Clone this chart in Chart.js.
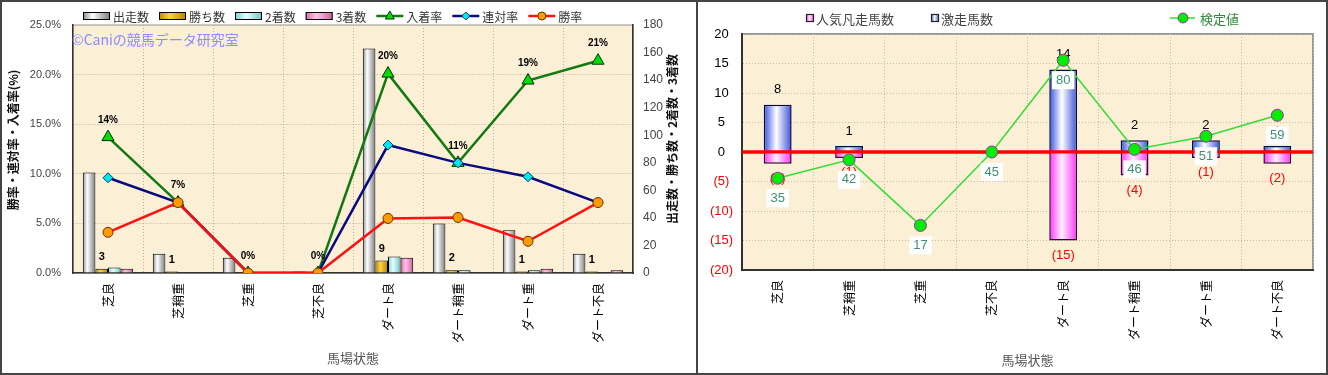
<!DOCTYPE html>
<html lang="ja">
<head>
<meta charset="UTF-8">
<title>馬場状態別成績</title>
<style>
  * { box-sizing: border-box; }
  body { margin: 0; background: #fff; }
  .panel { position: absolute; top: 0; height: 375px; border: 2px solid #444; background: #fff; }
  #left { left: 0; width: 698px; }
  #right { left: 696px; width: 632px; }
</style>
</head>
<body>
<div class="panel" id="left"><canvas id="chartLeft"></canvas></div>
<div class="panel" id="right"><canvas id="chartRight"></canvas></div>

<script src="https://cdn.jsdelivr.net/npm/chart.js"></script>
<script>
  // data
  const conditions = ['芝良', '芝稍重', '芝重', '芝不良', 'ダート良', 'ダート稍重', 'ダート重', 'ダート不良'];
  const starts = [73, 14, 11, 1, 163, 36, 31, 14];
  const wins = [3, 1, 0, 0, 9, 2, 1, 1];
  const seconds = [4, 0, 0, 0, 12, 2, 2, 0];
  const thirds = [3, 0, 0, 0, 11, 0, 3, 2];
  const winRate = [4.1, 7.1, 0, 0, 5.5, 5.6, 3.2, 7.1];
  const quinellaRate = [9.6, 7.1, 0, 0, 12.9, 11.1, 9.7, 7.1];
  const placeRate = [13.7, 7.1, 0, 0, 20.1, 11.1, 19.4, 21.4];

  const surgeCount = [8, 1, 0, 0, 14, 2, 2, 1];
  const flopCount = [-2, -1, 0, 0, -15, -4, -1, -2];
  const testValue = [35, 42, 17, 45, 80, 46, 51, 59];

  Chart.defaults.font.family = '"Noto Sans CJK JP", "Liberation Sans", sans-serif';
  Chart.defaults.animation = false;
  Chart.defaults.events = [];
  Chart.defaults.plugins.legend.display = false;
  Chart.defaults.plugins.tooltip.enabled = false;

  const NUM_FONT = '"Liberation Sans", Arial, sans-serif';

  function hGrad(ctx, x0, x1, stops) {
    const g = ctx.createLinearGradient(x0, 0, x1, 0);
    stops.forEach(s => g.addColorStop(s[0], s[1]));
    return g;
  }

  // cylinder-like shading on bars, computed once the bars have a position
  const barShading = {
    id: 'barShading',
    beforeDatasetsDraw(chart) {
      chart.data.datasets.forEach((ds, i) => {
        if (!ds.shade) return;
        chart.getDatasetMeta(i).data.forEach(el => {
          el.options.backgroundColor = hGrad(chart.ctx, el.x - el.width / 2, el.x + el.width / 2, ds.shade);
        });
      });
    }
  };

  const plotBg = {
    id: 'plotBg',
    beforeDraw(chart, args, opts) {
      const { ctx, chartArea: a } = chart;
      ctx.save();
      ctx.fillStyle = '#fbefd6';
      ctx.fillRect(a.left, a.top, a.right - a.left, a.bottom - a.top);
      ctx.strokeStyle = opts.frame;
      ctx.lineWidth = opts.frameWidth;
      ctx.strokeRect(a.left, a.top, a.right - a.left, a.bottom - a.top);
      ctx.restore();
    }
  };

  // vertical titles, both read bottom to top
  const sideTitles = {
    id: 'sideTitles',
    afterDraw(chart, args, opts) {
      const ctx = chart.ctx;
      (opts.items || []).forEach(t => {
        ctx.save();
        ctx.translate(t.x, t.y);
        ctx.rotate(-Math.PI / 2);
        ctx.font = t.font;
        ctx.fillStyle = t.color;
        ctx.textAlign = 'center';
        ctx.textBaseline = 'middle';
        ctx.fillText(t.text, 0, 0);
        ctx.restore();
      });
    }
  };

  function drawMarker(ctx, style, x, y, r, fill, stroke) {
    ctx.beginPath();
    if (style === 'triangle') {
      ctx.moveTo(x, y - r);
      ctx.lineTo(x - r * 0.9, y + r * 0.6);
      ctx.lineTo(x + r * 0.9, y + r * 0.6);
      ctx.closePath();
    } else if (style === 'rectRot') {
      ctx.moveTo(x, y - r); ctx.lineTo(x + r, y); ctx.lineTo(x, y + r); ctx.lineTo(x - r, y);
      ctx.closePath();
    } else {
      ctx.arc(x, y, r, 0, Math.PI * 2);
    }
    ctx.fillStyle = fill;
    ctx.fill();
    ctx.lineWidth = 1;
    ctx.strokeStyle = stroke;
    ctx.stroke();
  }

  // ---------- left chart ----------
  const leftLegend = {
    id: 'leftLegend',
    afterDraw(chart) {
      const ctx = chart.ctx;
      const order = [3, 4, 5, 6, 2, 1, 0];
      let x = 81;
      const y = 14;
      ctx.save();
      ctx.font = '12px "Noto Sans CJK JP"';
      ctx.textBaseline = 'middle';
      order.forEach(i => {
        const ds = chart.data.datasets[i];
        if (ds.type === 'bar') {
          ctx.fillStyle = hGrad(ctx, x, x + 27, ds.shade);
          ctx.fillRect(x, y - 4, 27, 8);
          ctx.strokeStyle = '#000';
          ctx.lineWidth = 1;
          ctx.strokeRect(x + 0.5, y - 3.5, 26, 7);
        } else {
          ctx.strokeStyle = ds.borderColor;
          ctx.lineWidth = 2.5;
          ctx.beginPath();
          ctx.moveTo(x, y);
          ctx.lineTo(x + 27, y);
          ctx.stroke();
          drawMarker(ctx, ds.pointStyle, x + 13.5, y, ds.pointStyle === 'triangle' ? 5 : 4,
            ds.pointBackgroundColor, ds.pointBorderColor);
        }
        ctx.fillStyle = '#333';
        ctx.fillText(ds.label, x + 30, y + 1);
        x += 30 + ctx.measureText(ds.label).width + 10;
      });
      ctx.restore();
    }
  };

  const leftLabels = {
    id: 'leftLabels',
    beforeDatasetsDraw(chart) {
      const ctx = chart.ctx;
      ctx.save();
      ctx.font = '14px "Noto Sans CJK JP"';
      ctx.fillStyle = '#8c8cff';
      ctx.textBaseline = 'middle';
      ctx.fillText('©Caniの競馬データ研究室', 70, 38);
      ctx.restore();
    },
    afterDatasetsDraw(chart) {
      const ctx = chart.ctx;
      ctx.save();
      ctx.textAlign = 'center';
      ctx.textBaseline = 'middle';
      ctx.fillStyle = '#000';
      ctx.font = 'bold 10px ' + NUM_FONT;
      chart.getDatasetMeta(2).data.forEach((el, i) => {
        ctx.fillText(Math.round(placeRate[i]) + '%', el.x, el.y - 17);
      });
      ctx.font = 'bold 11px ' + NUM_FONT;
      chart.getDatasetMeta(4).data.forEach((el, i) => {
        if (wins[i] > 0) ctx.fillText(String(wins[i]), el.x, el.y - 12);
      });
      ctx.restore();
    }
  };

  const barBase = { type: 'bar', yAxisID: 'y1', order: 3, borderColor: '#000', borderWidth: 1,
    backgroundColor: () => '#ccc', categoryPercentage: 0.72, barPercentage: 1 };
  const lineBase = { type: 'line', yAxisID: 'y', borderWidth: 2.5, tension: 0, pointBorderWidth: 1 };

  new Chart(document.getElementById('chartLeft'), {
    data: {
      labels: conditions,
      datasets: [
        { ...lineBase, label: '勝率', data: winRate, order: 0, borderColor: '#ff1010',
          pointStyle: 'circle', pointRadius: 5, pointBackgroundColor: '#ff9a00', pointBorderColor: '#663300' },
        { ...lineBase, label: '連対率', data: quinellaRate, order: 1, borderColor: '#0a0a80',
          pointStyle: 'rectRot', pointRadius: 5, pointBackgroundColor: '#00e5f0', pointBorderColor: '#004466' },
        { ...lineBase, label: '入着率', data: placeRate, order: 2, borderColor: '#107a10',
          pointStyle: 'triangle', pointRadius: 7, pointBackgroundColor: '#00dd00', pointBorderColor: '#003300' },
        { ...barBase, label: '出走数', data: starts, shade: [[0, '#8a8a8a'], [0.35, '#ffffff'], [1, '#7a7a7a']] },
        { ...barBase, label: '勝ち数', data: wins, shade: [[0, '#c08a00'], [0.4, '#ffd440'], [1, '#b88000']] },
        { ...barBase, label: '2着数', data: seconds, shade: [[0, '#78d0d0'], [0.4, '#e4ffff'], [1, '#70c4c4']] },
        { ...barBase, label: '3着数', data: thirds, shade: [[0, '#dc6cac'], [0.4, '#ffc4e4'], [1, '#d060a0']] }
      ]
    },
    options: {
      responsive: true,
      maintainAspectRatio: false,
      layout: { padding: { top: 23, left: 0, right: 0, bottom: 0 } },
      scales: {
        x: {
          offset: true,
          afterFit(s) { s.height = 100; },
          grid: { offset: true, color: '#b9b09c', drawTicks: false },
          border: { color: '#333', width: 1.5, dash: [1, 2] },
          ticks: { autoSkip: false, minRotation: 90, maxRotation: 90, padding: 10, color: '#000', font: { size: 12 } },
          title: { display: true, text: '馬場状態', color: '#555', font: { size: 13 }, padding: { top: 0, bottom: 7 } }
        },
        y: {
          position: 'left',
          min: 0, max: 25,
          afterFit(s) { s.width = 71; },
          grid: { color: '#b9b09c', drawTicks: false },
          border: { color: '#333', width: 1.5, dash: [1, 2] },
          ticks: { stepSize: 5, padding: 12, color: '#444', font: { family: NUM_FONT, size: 11 },
            callback: v => v.toFixed(1) + '%' }
        },
        y1: {
          position: 'right',
          min: 0, max: 180,
          afterFit(s) { s.width = 63; },
          grid: { drawOnChartArea: false, drawTicks: false },
          border: { color: '#333', width: 1.5 },
          ticks: { stepSize: 20, padding: 10, color: '#444', font: { family: NUM_FONT, size: 12 } }
        }
      },
      plugins: {
        plotBg: { frame: '#9a9a9a', frameWidth: 1 },
        sideTitles: { items: [
          { text: '勝率・連対率・入着率(%)', x: 11, y: 138, font: 'bold 12px "Noto Sans CJK JP"', color: '#111' },
          { text: '出走数・勝ち数・2着数・3着数', x: 670, y: 137, font: 'bold 12px "Noto Sans CJK JP"', color: '#111' }
        ] }
      }
    },
    plugins: [plotBg, barShading, sideTitles, leftLegend, leftLabels]
  });

  // ---------- right chart ----------
  const pinkShade = [[0, '#ff30ff'], [0.45, '#fff0ff'], [1, '#ff30ff']];
  const blueShade = [[0, '#3450e0'], [0.45, '#ffffff'], [1, '#3a52da']];

  const rightLegend = {
    id: 'rightLegend',
    afterDraw(chart) {
      const ctx = chart.ctx;
      const y = 16;
      ctx.save();
      ctx.font = '13px "Noto Sans CJK JP"';
      ctx.textBaseline = 'middle';
      [[108, pinkShade, '人気凡走馬数'], [233, blueShade, '激走馬数']].forEach(([x, shade, text]) => {
        ctx.fillStyle = hGrad(ctx, x, x + 8, shade);
        ctx.fillRect(x, y - 4, 8, 8);
        ctx.strokeStyle = '#222';
        ctx.lineWidth = 1.2;
        ctx.strokeRect(x + 0.5, y - 3.5, 7, 7);
        ctx.fillStyle = '#444';
        ctx.fillText(text, x + 10, y + 1);
      });
      ctx.strokeStyle = '#33dd33';
      ctx.lineWidth = 1.5;
      ctx.beginPath();
      ctx.moveTo(472, y);
      ctx.lineTo(497, y);
      ctx.stroke();
      drawMarker(ctx, 'circle', 485, y, 5, '#00ee00', '#9933aa');
      ctx.fillStyle = '#2f8a3a';
      ctx.fillText('検定値', 502, y + 1);
      ctx.restore();
    }
  };

  const rightLabels = {
    id: 'rightLabels',
    afterDatasetDraw(chart, args) {
      if (args.meta.type !== 'bar') return;
      const { ctx, chartArea: a } = chart;
      const zero = chart.scales.y.getPixelForValue(0);
      ctx.save();
      ctx.strokeStyle = '#ff0000';
      ctx.lineWidth = 3;
      ctx.beginPath();
      ctx.moveTo(a.left, zero);
      ctx.lineTo(a.right, zero);
      ctx.stroke();
      ctx.font = '13px ' + NUM_FONT;
      ctx.textAlign = 'center';
      ctx.textBaseline = 'middle';
      const values = chart.data.datasets[args.index].data;
      args.meta.data.forEach((el, i) => {
        const v = values[i];
        if (v > 0) {
          ctx.fillStyle = '#000';
          ctx.fillText(String(v), el.x, el.y - 15);
        } else if (v < 0) {
          ctx.fillStyle = '#ff0000';
          ctx.fillText('(' + (-v) + ')', el.x, el.y + 15);
        }
      });
      ctx.restore();
    },
    afterDatasetsDraw(chart) {
      const ctx = chart.ctx;
      ctx.save();
      ctx.font = '13px ' + NUM_FONT;
      ctx.textAlign = 'center';
      ctx.textBaseline = 'middle';
      chart.getDatasetMeta(2).data.forEach((el, i) => {
        const t = String(testValue[i]);
        const w = ctx.measureText(t).width + 8;
        ctx.fillStyle = '#fff';
        ctx.fillRect(el.x - w / 2, el.y + 11, w, 18);
        ctx.fillStyle = '#3c9070';
        ctx.fillText(t, el.x, el.y + 20);
      });
      ctx.restore();
    }
  };

  const rightBar = { type: 'bar', yAxisID: 'y', order: 1, grouped: false, borderWidth: 1.5,
    backgroundColor: () => '#ccc', barPercentage: 0.39, categoryPercentage: 1 };

  new Chart(document.getElementById('chartRight'), {
    data: {
      labels: conditions,
      datasets: [
        { ...rightBar, label: '人気凡走馬数', data: flopCount, shade: pinkShade, borderColor: '#2a0a2a' },
        { ...rightBar, label: '激走馬数', data: surgeCount, shade: blueShade, borderColor: '#0a0a3a' },
        { type: 'line', label: '検定値', data: testValue, yAxisID: 'y2', order: 0, tension: 0,
          borderColor: '#33dd33', borderWidth: 1.5, pointRadius: 6, pointBackgroundColor: '#00ee00',
          pointBorderColor: '#9933aa', pointBorderWidth: 1 }
      ]
    },
    options: {
      responsive: true,
      maintainAspectRatio: false,
      layout: { padding: { top: 32, left: 0, right: 13, bottom: 0 } },
      scales: {
        x: {
          offset: true,
          afterFit(s) { s.height = 103; },
          grid: { offset: true, color: '#c4bba8', drawTicks: false },
          border: { color: '#333', width: 2, dash: [1, 2] },
          ticks: { autoSkip: false, minRotation: 90, maxRotation: 90, padding: 10, color: '#000', font: { size: 12 } },
          title: { display: true, text: '馬場状態', color: '#555', font: { size: 13 }, padding: { top: 0, bottom: 5 } }
        },
        y: {
          position: 'left',
          min: -20, max: 20,
          afterFit(s) { s.width = 44; },
          grid: { color: '#c4bba8', drawTicks: false },
          border: { color: '#333', width: 2, dash: [1, 2] },
          ticks: { stepSize: 5, padding: 9, crossAlign: 'center', font: { family: NUM_FONT, size: 13 },
            color: c => c.tick.value < 0 ? '#ff0000' : '#000',
            callback: v => v < 0 ? '(' + (-v) + ')' : String(v) }
        },
        y2: { display: false, min: 0, max: 90 }
      },
      plugins: {
        plotBg: { frame: '#999', frameWidth: 2 }
      }
    },
    plugins: [plotBg, barShading, rightLegend, rightLabels]
  });
</script>
</body>
</html>
